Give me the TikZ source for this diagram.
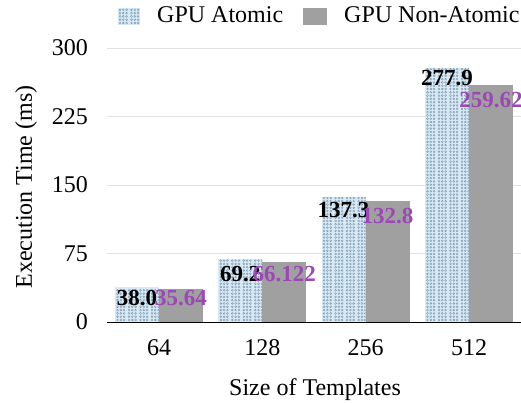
\documentclass[tikz,border=0pt]{standalone}
\usepackage{fontspec}
\setmainfont{Liberation Serif}
\definecolor{barA}{RGB}{214,233,244}
\definecolor{dotA}{RGB}{125,152,175}
\definecolor{barB}{RGB}{160,160,160}
\definecolor{labB}{RGB}{155,72,182}
\definecolor{gridC}{RGB}{226,226,226}
\newcommand{\ys}{0.9133}

\begin{document}
\begin{tikzpicture}[x=1pt,y=1pt,font=\fontsize{24}{28}\selectfont,
  atomic/.style={fill=barA},
  nonatomic/.style={fill=barB},
  vallab/.style={font=\fontsize{23}{28}\selectfont\bfseries,inner sep=0pt}]
\useasboundingbox (0,0) rectangle (521,402);
% grid and y ticks
\foreach \v in {75,150,225,300}
  \draw[gridC,line width=0.8pt] (107,80+\v*\ys) -- (521,80+\v*\ys);
\foreach \v in {0,75,150,225,300}
  \node[anchor=east,inner sep=0pt] (yt\v) at (88,80+\v*\ys) {\v};
% bars
\foreach \c/\a/\b [count=\i] in {159/38.0/35.64,262.3/69.2/66.122,365.6/137.3/132.8,469/277.9/259.62}{
  \fill[atomic] (\c-44,80) rectangle (\c,80+\a*\ys);
  \begin{scope}[shift={(\c-44,80)}]
    \clip (0,0) rectangle (44,\a*\ys);
    \pgfmathsetmacro{\h}{\a*\ys}
    \foreach \k in {0,...,3}
      \foreach \j in {0,1,2}
        \foreach \py in {2,5.3,...,\h}
          \draw[dotA,line width=0.4pt] (2.5+11.5*\k+3.3*\j,\py) circle (0.95);
  \end{scope}
  \fill[nonatomic] (\c,80) rectangle (\c+44,80+\b*\ys);
}
\draw[black,line width=1pt] (107,80) -- (521,80);
% value labels
\foreach \c/\a/\b/\da/\db [count=\i] in {159/38.0/35.64/11/8.5,262.3/69.2/66.122/15/12,365.6/137.3/132.8/13.4/15,469/277.9/259.62/10/15}{
  \node[vallab] (va\i) at (\c-22,80+\a*\ys-\da) {\a};
  \node[vallab,labB] (vb\i) at (\c+22,80+\b*\ys-\db) {\b};
}
% x ticks
\foreach \c/\n in {159/64,262.3/128,365.6/256,469/512}
  \node (xt\n) at (\c,54) {\n};
\node (xlab) at (315,12) {Size of Templates};
\node[rotate=90] (ylab) at (26,215) {Execution Time (ms)};
% legend
\fill[atomic] (118,377) rectangle (140,394);
\begin{scope}
  \clip (118,377) rectangle (140,394);
  \foreach \k in {0,1}
    \foreach \j in {0,1,2}
      \foreach \py in {379,382.3,...,394}
        \draw[dotA,line width=0.4pt] (120+11.5*\k+3.3*\j,\py) circle (0.95);
\end{scope}
\node[anchor=west,inner sep=0pt] (legA) at (157,387) {GPU Atomic};
\fill[nonatomic] (303,377) rectangle (327,394);
\node[anchor=west,inner sep=0pt] (legB) at (344,387) {GPU Non-Atomic};
\end{tikzpicture}
\end{document}
